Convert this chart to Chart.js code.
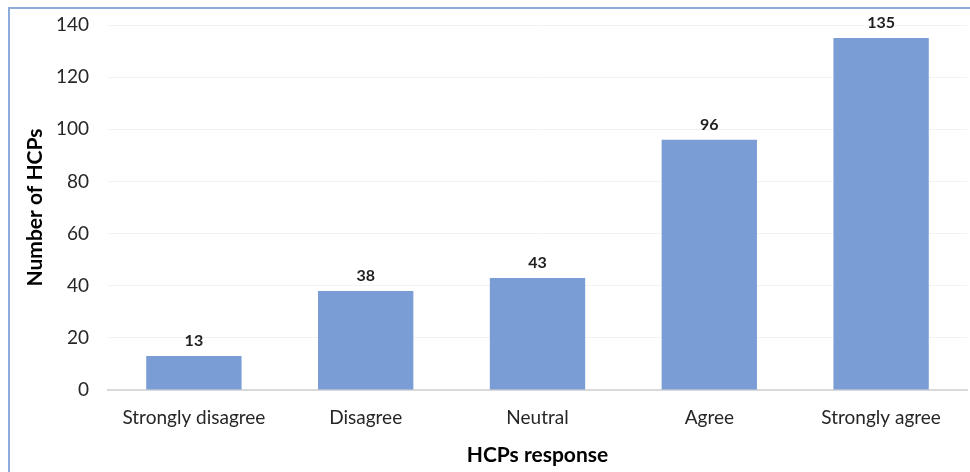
<!DOCTYPE html>
<html>
<head>
<meta charset="utf-8">
<script src="https://cdn.jsdelivr.net/npm/chart.js@4/dist/chart.umd.min.js"></script>
<style>
  html, body { margin: 0; padding: 0; background: #fff; overflow: hidden; }
  #frame { position: absolute; left: 8px; top: 7px; width: 1000px; height: 520px;
           border-left: 2px solid #8faadc; border-top: 2px solid #8faadc; }
  #wrap { position: absolute; left: 0; top: 0; width: 970px; height: 472px; }
</style>
</head>
<body>
<div id="frame"></div>
<div id="wrap"><canvas id="c" width="970" height="472"></canvas></div>
<script>
const categories = ['Strongly disagree', 'Disagree', 'Neutral', 'Agree', 'Strongly agree'];
const counts = [13, 38, 43, 96, 135];
const yTicks = [0, 20, 40, 60, 80, 100, 120, 140];

const FONT = "Lato, 'Open Sans', 'Liberation Sans', sans-serif";

// Value labels above each bar
const barValueLabels = {
  id: 'barValueLabels',
  afterDatasetsDraw(chart) {
    const ctx = chart.ctx;
    const meta = chart.getDatasetMeta(0);
    ctx.save();
    ctx.font = `bold 16px ${FONT}`;
    ctx.fillStyle = '#1f1f1f';
    ctx.textAlign = 'center';
    ctx.textBaseline = 'bottom';
    meta.data.forEach((bar, i) => {
      ctx.fillText(String(chart.data.datasets[0].data[i]), bar.x, bar.y - 7);
    });
    ctx.restore();
  }
};

new Chart(document.getElementById('c'), {
  type: 'bar',
  data: {
    labels: categories,
    datasets: [{
      data: counts,
      backgroundColor: '#7b9dd6',
      borderWidth: 0,
      categoryPercentage: 0.555,
      barPercentage: 1.0
    }]
  },
  options: {
    responsive: false,
    animation: false,
    devicePixelRatio: 1,
    layout: { padding: { left: 10, top: 25, right: 3, bottom: 0 } },
    plugins: { legend: { display: false }, tooltip: { enabled: false } },
    scales: {
      x: {
        afterFit(scale) { scale.height = 82; },
        grid: { display: false, drawTicks: false },
        border: { display: true, color: '#d9d9d9', width: 2 },
        ticks: { color: '#262626', font: { family: FONT, size: 19 }, padding: 16 },
        title: {
          display: true, text: 'HCPs response', color: '#000',
          font: { family: FONT, size: 21, weight: 'bold' }, padding: { top: 6, bottom: 4 }
        }
      },
      y: {
        min: 0, max: 140,
        afterFit(scale) {
          scale.width = 98;
          // keep the plot top governed by the layout padding
          scale.paddingTop = 0;
          scale.paddingBottom = 0;
        },
        afterBuildTicks(scale) { scale.ticks = yTicks.map(v => ({ value: v })); },
        grid: { color: '#f2f2f2', lineWidth: 1, drawTicks: false },
        border: { display: false },
        ticks: { color: '#262626', font: { family: FONT, size: 19 }, padding: 19 },
        title: {
          display: true, text: 'Number of HCPs', color: '#000',
          font: { family: FONT, size: 21, weight: 'bold' }, padding: { top: 13, bottom: 0 }
        }
      }
    }
  },
  plugins: [barValueLabels]
});
</script>
</body>
</html>
